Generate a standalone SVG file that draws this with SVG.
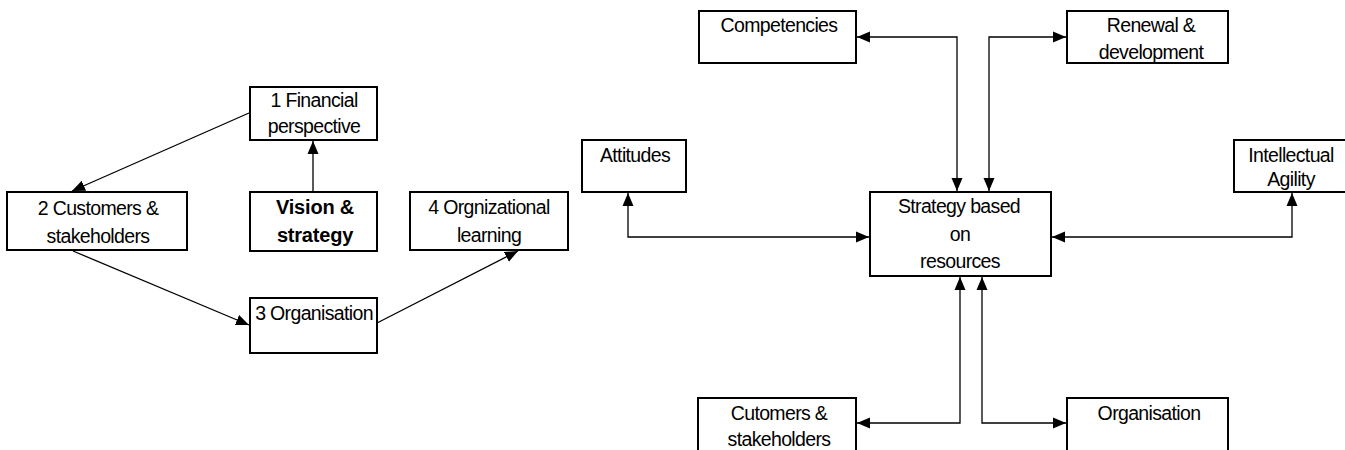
<svg xmlns="http://www.w3.org/2000/svg" width="1345" height="450" viewBox="0 0 1345 450">
<style>
.box{fill:#fff;stroke:#000;stroke-width:2}
.t{font-family:"Liberation Sans",Arial,sans-serif;font-size:19.5px;letter-spacing:-0.65px;fill:#000;text-anchor:middle}
.b{font-weight:bold;font-size:20px;letter-spacing:-0.2px}
.c{fill:none;stroke:#000;stroke-width:1.3}
</style>
<defs>
<marker id="ah" markerUnits="userSpaceOnUse" markerWidth="14" markerHeight="12" refX="13" refY="6" orient="auto-start-reverse">
<path d="M0,0.5 L13,6 L0,11.5 z" fill="#000"/>
</marker>
</defs>
<rect width="1345" height="450" fill="#fff"/>
<g id="connectors">
<line class="c" x1="249" y1="113" x2="72" y2="191" marker-end="url(#ah)"/>
<line class="c" x1="313" y1="192" x2="313" y2="141" marker-end="url(#ah)"/>
<line class="c" x1="73" y1="251" x2="249" y2="325" marker-end="url(#ah)"/>
<line class="c" x1="377" y1="323" x2="518" y2="251" marker-end="url(#ah)"/>
<polyline class="c" points="857,37 957,37 957,191" marker-start="url(#ah)" marker-end="url(#ah)"/>
<polyline class="c" points="989,191 989,37 1066,37" marker-start="url(#ah)" marker-end="url(#ah)"/>
<polyline class="c" points="628,193 628,237 869,237" marker-start="url(#ah)" marker-end="url(#ah)"/>
<polyline class="c" points="1052,237 1292,237 1292,193" marker-start="url(#ah)" marker-end="url(#ah)"/>
<polyline class="c" points="960,277 960,423 857,423" marker-start="url(#ah)" marker-end="url(#ah)"/>
<polyline class="c" points="982,277 982,423 1066,423" marker-start="url(#ah)" marker-end="url(#ah)"/>
</g>
<g id="financial">
<rect class="box" x="250" y="87" width="127" height="53"/>
<text class="t" x="314" y="107">1 Financial</text>
<text class="t" x="314" y="133">perspective</text>
</g>
<g id="customers">
<rect class="box" x="7" y="192" width="180" height="58"/>
<text class="t" x="98" y="215">2 Customers &amp;</text>
<text class="t" x="98" y="243">stakeholders</text>
</g>
<g id="vision">
<rect class="box" x="250" y="192" width="127" height="59"/>
<text class="t b" x="315" y="214">Vision &amp;</text>
<text class="t b" x="315" y="242">strategy</text>
</g>
<g id="learning">
<rect class="box" x="410" y="192" width="158" height="58"/>
<text class="t" x="489" y="214">4 Orgnizational</text>
<text class="t" x="489" y="242">learning</text>
</g>
<g id="organisation3">
<rect class="box" x="250" y="298" width="127" height="55"/>
<text class="t" x="314" y="320">3 Organisation</text>
</g>
<g id="competencies">
<rect class="box" x="699" y="11" width="157" height="52"/>
<text class="t" x="779" y="32">Competencies</text>
</g>
<g id="renewal">
<rect class="box" x="1067" y="11" width="161" height="52"/>
<text class="t" x="1151" y="32">Renewal &amp;</text>
<text class="t" x="1151" y="59">development</text>
</g>
<g id="attitudes">
<rect class="box" x="582" y="140" width="104" height="52"/>
<text class="t" x="635" y="162">Attitudes</text>
</g>
<g id="agility">
<rect class="box" x="1234" y="140" width="120" height="52"/>
<text class="t" x="1291" y="162">Intellectual</text>
<text class="t" x="1291" y="186">Agility</text>
</g>
<g id="strategy">
<rect class="box" x="870" y="192" width="181" height="84"/>
<text class="t" x="959" y="213">Strategy based</text>
<text class="t" x="960" y="241">on</text>
<text class="t" x="960" y="268">resources</text>
</g>
<g id="cutomers">
<rect class="box" x="698" y="398" width="158" height="60"/>
<text class="t" x="779" y="420">Cutomers &amp;</text>
<text class="t" x="779" y="446">stakeholders</text>
</g>
<g id="organisation">
<rect class="box" x="1067" y="398" width="161" height="60"/>
<text class="t" x="1149" y="420">Organisation</text>
</g>
</svg>
